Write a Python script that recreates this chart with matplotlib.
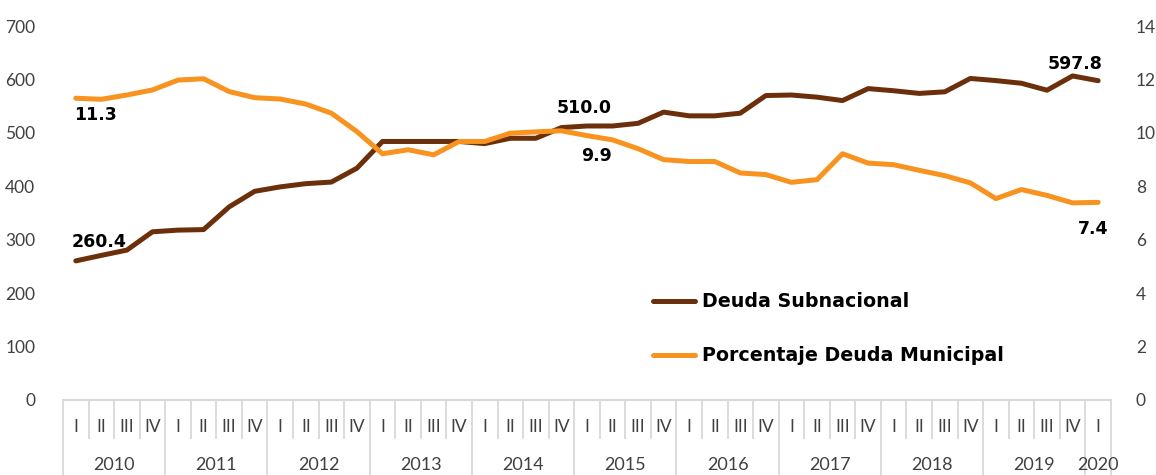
import matplotlib.pyplot as plt

plt.rcParams["font.family"] = ["Lato", "DejaVu Sans"]

years = ["2010", "2011", "2012", "2013", "2014", "2015", "2016", "2017", "2018", "2019", "2020"]
quarters = ["I", "II", "III", "IV"] * 10 + ["I"]

deuda = [260.4, 270.7, 280.6, 314.9, 318.0, 319.0, 361.5, 390.7, 399.0, 405.0, 408.0,
         434.0, 484.0, 484.0, 484.0, 484.0, 480.0, 490.0, 490.0, 510.0, 513.0, 513.0,
         518.0, 539.0, 532.0, 532.0, 537.0, 570.0, 571.0, 567.0, 560.6, 583.0, 579.0,
         574.0, 577.0, 602.0, 598.0, 593.0, 580.0, 606.7, 597.8]
porcentaje = [11.3, 11.26, 11.42, 11.61, 11.98, 12.03, 11.55, 11.32, 11.27, 11.08, 10.74,
              10.05, 9.22, 9.37, 9.18, 9.68, 9.68, 9.99, 10.04, 10.08, 9.9, 9.74,
              9.41, 9.0, 8.93, 8.93, 8.5, 8.44, 8.15, 8.25, 9.22, 8.87, 8.81,
              8.6, 8.4, 8.13, 7.54, 7.88, 7.66, 7.38, 7.4]

brown = "#6b300b"
orange = "#f7931e"
grey = "#d9d9d9"
txt = "#404040"
bold_font = ["DejaVu Sans"]

x = list(range(len(deuda)))

fig = plt.figure(figsize=(11.56, 4.75), dpi=100)
ax = fig.add_axes([0.0545, 0.158, 0.9065, 0.787])
ax2 = ax.twinx()

ax.plot(x, deuda, color=brown, lw=3.6, solid_capstyle="round", solid_joinstyle="round",
        label="Deuda Subnacional")
ax2.plot(x, porcentaje, color=orange, lw=3.6, solid_capstyle="round", solid_joinstyle="round",
         label="Porcentaje Deuda Municipal")

ax.set_xlim(-0.5, len(x) - 0.5)
ax.set_ylim(0, 700)
ax2.set_ylim(0, 14)
ax.set_yticks(range(0, 701, 100))
ax2.set_yticks(range(0, 15, 2))
ax.set_xticks([])

for a in (ax, ax2):
    for s in a.spines.values():
        s.set_visible(False)
    a.tick_params(axis="y", length=0, labelsize=12.5, labelcolor=txt)
ax.tick_params(axis="y", pad=20)
ax2.tick_params(axis="y", pad=18)
ax.spines["bottom"].set_visible(True)
ax.spines["bottom"].set_color(grey)
ax.spines["bottom"].set_linewidth(1.5)

# category axis: quarters and years
tr = ax.get_xaxis_transform()
for i, q in enumerate(quarters):
    ax.text(i, -0.072, q, transform=tr, ha="center", va="center", fontsize=12.5, color=txt)
for k in range(len(x) + 1):
    bottom = -0.2005 if (k % 4 == 0 or k >= len(x) - 1) else -0.1016
    ax.plot([k - 0.5, k - 0.5], [0, bottom], transform=tr, color=grey, lw=1.3, clip_on=False)
for j, yr in enumerate(years):
    start = j * 4
    end = min(start + 4, len(x))
    ax.text((start + end - 1) / 2, -0.174, yr, transform=tr, ha="center", va="center",
            fontsize=13, color=txt)

# data labels
lab = dict(textcoords="offset pixels", ha="center", va="center", fontsize=12.5,
           fontweight="bold", color="black", family=bold_font)
ax.annotate(f"{deuda[0]:.1f}", (0, deuda[0]), xytext=(23, 19), **lab)
ax.annotate(f"{deuda[19]:.1f}", (19, deuda[19]), xytext=(23, 20), **lab)
ax.annotate(f"{deuda[-1]:.1f}", (40, deuda[-1]), xytext=(-23, 17), **lab)
ax2.annotate(f"{porcentaje[0]:.1f}", (0, porcentaje[0]), xytext=(20, -17), **lab)
ax2.annotate(f"{porcentaje[20]:.1f}", (20, porcentaje[20]), xytext=(10, -20), **lab)
ax2.annotate(f"{porcentaje[-1]:.1f}", (40, porcentaje[-1]), xytext=(-5, -27), **lab)

h1, l1 = ax.get_legend_handles_labels()
h2, l2 = ax2.get_legend_handles_labels()
leg = ax2.legend(h1 + h2, l1 + l2, loc="upper left", bbox_to_anchor=(0.563, 0.288),
                 frameon=False, borderpad=0, borderaxespad=0, handlelength=2.2,
                 handletextpad=0.38, labelspacing=1.85,
                 prop={"size": 13.7, "weight": "bold", "family": bold_font})

fig.savefig("out.png", dpi=100)
